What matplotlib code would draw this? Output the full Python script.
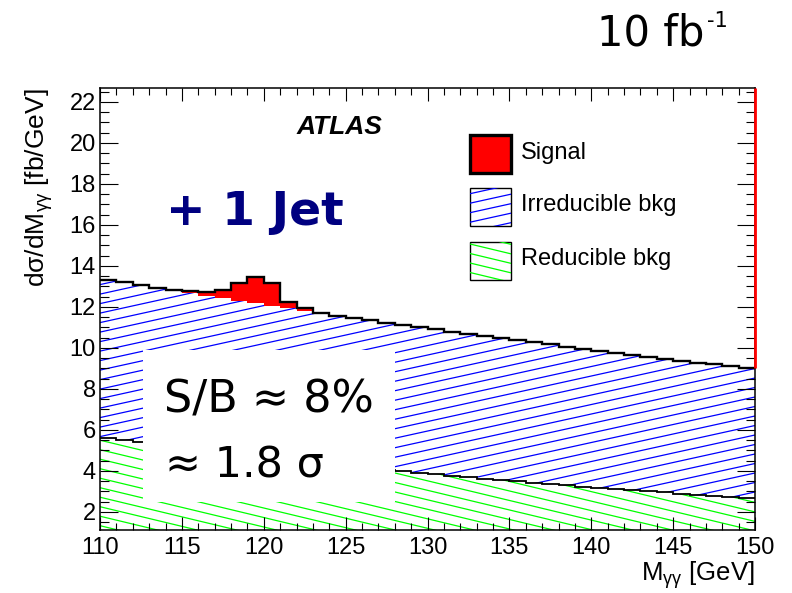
import numpy as np
import matplotlib
matplotlib.use("Agg")
import matplotlib.pyplot as plt
from matplotlib.lines import Line2D
from matplotlib.patches import Rectangle
from matplotlib.ticker import MultipleLocator

# Diphoton invariant mass, 1 GeV bins
mass_edges = list(range(110, 151))

# Differential cross sections per bin [fb/GeV]
reducible_bkg = [5.62, 5.52, 5.41, 5.31, 5.21, 5.11, 5.02, 4.92, 4.83, 4.74,
                 4.65, 4.56, 4.48, 4.39, 4.31, 4.23, 4.15, 4.07, 3.99, 3.92,
                 3.84, 3.77, 3.70, 3.63, 3.56, 3.50, 3.43, 3.37, 3.30, 3.24,
                 3.18, 3.12, 3.06, 3.00, 2.95, 2.89, 2.84, 2.79, 2.73, 2.68]
irreducible_bkg = [7.71, 7.68, 7.66, 7.63, 7.60, 7.57, 7.53, 7.51, 7.47, 7.44,
                   7.41, 7.38, 7.34, 7.31, 7.27, 7.24, 7.20, 7.17, 7.14, 7.10,
                   7.07, 7.03, 6.99, 6.95, 6.92, 6.87, 6.84, 6.80, 6.77, 6.73,
                   6.69, 6.65, 6.61, 6.57, 6.53, 6.49, 6.45, 6.41, 6.37, 6.33]
signal = [0.0, 0.0, 0.0, 0.0, 0.0, 0.08, 0.17, 0.40, 0.86, 1.30,
          1.10, 0.29, 0.12, 0.0, 0.0, 0.0, 0.0, 0.0, 0.0, 0.0,
          0.0, 0.0, 0.0, 0.0, 0.0, 0.0, 0.0, 0.0, 0.0, 0.0,
          0.0, 0.0, 0.0, 0.0, 0.0, 0.0, 0.0, 0.0, 0.0, 0.0]

legend_labels = ["Signal", "Irreducible bkg", "Reducible bkg"]
x_range = (110, 150)
y_range = (1.12, 22.68)

SANS = ["Liberation Sans", "DejaVu Sans"]
plt.rcParams["font.family"] = SANS
plt.rcParams["mathtext.fontset"] = "custom"
plt.rcParams["mathtext.rm"] = "Liberation Sans"
plt.rcParams["mathtext.it"] = "Liberation Sans:italic"

fig = plt.figure(figsize=(7.92, 5.93), dpi=100)
ax_pos = [100 / 792, 1 - 530 / 593, 655 / 792, 442 / 593]
ax = fig.add_axes(ax_pos)
AX_W = ax_pos[2] * 792
AX_H = ax_pos[3] * 593

edges = np.array(mass_edges, dtype=float)
red = np.array(reducible_bkg)
irr = np.array(irreducible_bkg)
sig = np.array(signal)
total = red + irr


def hatch(clip_patch, slope_px, step_px, color, lw=0.9, z=1.2):
    """Draw straight hatch lines (given pixel slope/spacing) clipped to a patch."""
    s = slope_px * AX_W / AX_H
    d = step_px / AX_H
    for c in np.arange(-abs(s) - d, 1 + abs(s) + d, d):
        ln = Line2D([0, 1], [c, c + s], transform=ax.transAxes, color=color,
                    lw=lw, zorder=z, solid_capstyle="butt")
        ax.add_artist(ln)
        ln.set_clip_path(clip_patch)


# Reducible background (bottom of the stack)
red_patch = ax.stairs(red, edges, baseline=0, fill=True, facecolor="none",
                      edgecolor="none", zorder=1)
hatch(red_patch, -0.24, 9.5, "#00ff00")

# Irreducible background stacked on top
irr_patch = ax.stairs(total, edges, baseline=red, fill=True, facecolor="none",
                      edgecolor="none", zorder=1)
hatch(irr_patch, 0.22, 9.5, "#0000ff")

# Signal on top of total background
ax.stairs(total + sig, edges, baseline=total, fill=True, facecolor="#ff0000",
          edgecolor="none", zorder=1.5)

# Outlines
ax.stairs(red, edges, baseline=None, color="black", lw=1.3, zorder=2)
ax.stairs(total + sig, edges, baseline=None, color="black", lw=1.7, zorder=2)

ax.set_xlim(*x_range)
ax.set_ylim(*y_range)

# Red edge of the signal histogram at the upper mass limit
ax.plot([edges[-1], edges[-1]], [total[-1], y_range[1]], color="#ff0000",
        lw=2.0, zorder=6, clip_on=False, solid_capstyle="butt")

# Axis styling
ax.xaxis.set_major_locator(MultipleLocator(5))
ax.xaxis.set_minor_locator(MultipleLocator(1))
ax.yaxis.set_major_locator(MultipleLocator(2))
ax.yaxis.set_minor_locator(MultipleLocator(0.5))
ax.tick_params(axis="both", which="both", direction="in", top=True,
               right=True, width=0.8, colors="black")
ax.tick_params(axis="x", which="major", length=9.4, labelsize=17, pad=5)
ax.tick_params(axis="x", which="minor", length=5)
ax.tick_params(axis="y", which="major", length=13, labelsize=17, pad=3)
ax.tick_params(axis="y", which="minor", length=6.5)
for sp in ax.spines.values():
    sp.set_linewidth(1.1)

fig.text(0.953, 0.004, r"M$_{\mathrm{\gamma\gamma}}$ [GeV]", ha="right",
         va="bottom", fontsize=18.5)
fig.text(0.05, 1 - 88 / 593, r"d$\mathrm{\sigma}$/dM$_{\mathrm{\gamma\gamma}}$ [fb/GeV]",
         rotation=90, ha="center", va="top", fontsize=19)

# White summary box
ax.add_patch(Rectangle((0.0656, 0.063), 0.3848, 0.344, transform=ax.transAxes,
                       facecolor="white", edgecolor="none", zorder=3))
ax.text(0.098, 0.265, "S/B ≈ 8%", transform=ax.transAxes, fontsize=32,
        family=["DejaVu Sans"], ha="left", va="baseline", zorder=4)
ax.text(0.099, 0.118, "≈ 1.8 σ", transform=ax.transAxes, fontsize=31,
        family=["DejaVu Sans"], ha="left", va="baseline", zorder=4)

ax.text(0.101, 0.690, "+ 1 Jet", transform=ax.transAxes, fontsize=34,
        family=["DejaVu Sans"], fontweight="bold", color="#000080",
        ha="left", va="baseline", zorder=4)
ax.text(0.366, 0.896, "ATLAS", transform=ax.transAxes, fontsize=19,
        fontweight="bold", fontstyle="italic", ha="center", va="baseline",
        zorder=4)

# Luminosity label with a small raised "-1"
lumi = fig.text(597 / 792, 1 - 46 / 593, "10 fb", fontsize=30,
                family=["DejaVu Sans"], ha="left", va="baseline")
fig.canvas.draw()
lumi_bb = lumi.get_window_extent(fig.canvas.get_renderer())
fig.text((lumi_bb.x1 + 3) / fig.bbox.width, 1 - 27 / 593, "-1", fontsize=15,
         family=["DejaVu Sans"], ha="left", va="baseline")

# Legend
box_x, box_w, box_h = 0.565, 0.0626, 0.086
box_y = [0.808, 0.688, 0.566]
label_y = [0.853, 0.735, 0.613]
sig_box = Rectangle((box_x, box_y[0]), box_w, box_h, transform=ax.transAxes,
                    facecolor="#ff0000", edgecolor="black", lw=2.4, zorder=5)
ax.add_patch(sig_box)
irr_box = Rectangle((box_x, box_y[1]), box_w, box_h, transform=ax.transAxes,
                    facecolor="white", edgecolor="black", lw=1.0, zorder=5)
ax.add_patch(irr_box)
hatch(irr_box, 0.22, 9.5, "#0000ff", z=5.1)
red_box = Rectangle((box_x, box_y[2]), box_w, box_h, transform=ax.transAxes,
                    facecolor="white", edgecolor="black", lw=1.0, zorder=5)
ax.add_patch(red_box)
hatch(red_box, -0.24, 9.5, "#00ff00", z=5.1)
for lab, ly in zip(legend_labels, label_y):
    ax.text(0.643, ly, lab, transform=ax.transAxes, fontsize=17,
            ha="left", va="center", zorder=5)

ax.set_xlim(*x_range)
ax.set_ylim(*y_range)

fig.savefig("out.png", dpi=100)
